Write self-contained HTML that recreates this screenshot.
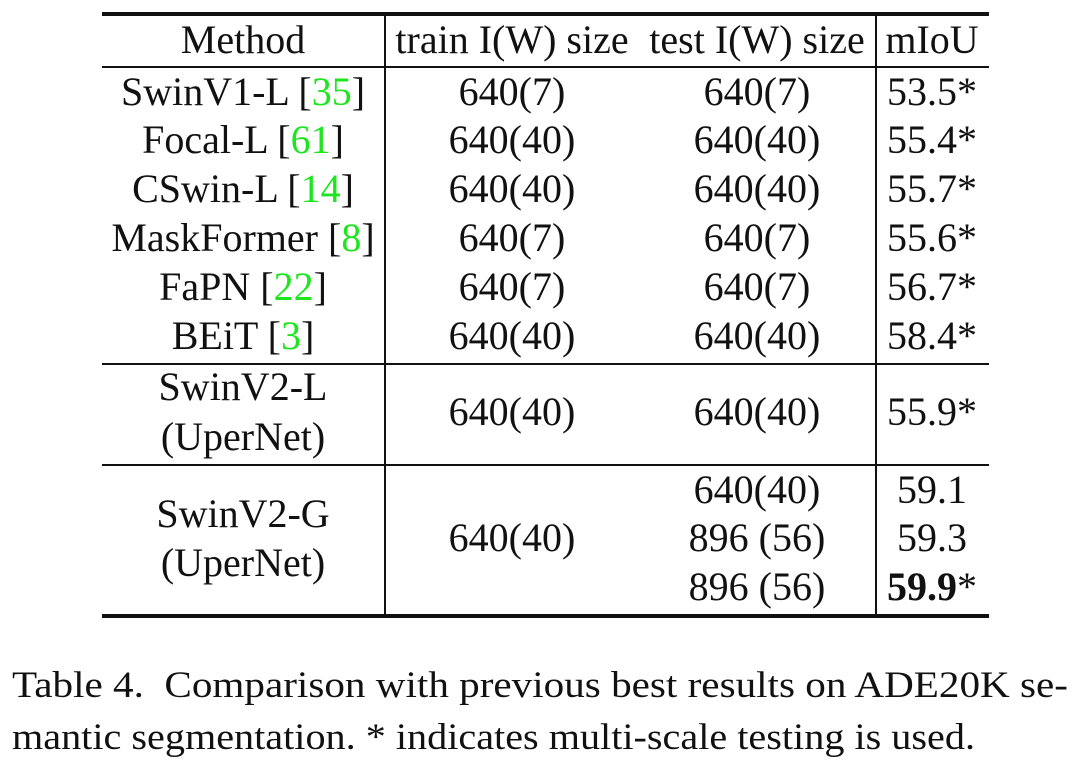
<!DOCTYPE html>
<html><head><style>
body{margin:0;width:1080px;height:764px;background:#fff;position:relative;overflow:hidden;font-family:"Liberation Serif","DejaVu Serif",serif;color:#111}
.t{position:absolute;font-size:40px;line-height:40px;white-space:nowrap;transform:translate(-50%,-50%)}
.h{position:absolute;background:#111}
.g{color:#1ee61e}
.cl{position:absolute;left:12px;font-size:37px;line-height:40px;white-space:nowrap;transform-origin:0 50%}
</style></head><body>
<div class="h" style="left:102px;top:12px;width:887px;height:4px"></div>
<div class="h" style="left:102px;top:66px;width:887px;height:2px"></div>
<div class="h" style="left:102px;top:363px;width:887px;height:2px"></div>
<div class="h" style="left:102px;top:464px;width:887px;height:2px"></div>
<div class="h" style="left:102px;top:614px;width:887px;height:4px"></div>
<div class="h" style="left:384px;top:14px;width:2px;height:602px"></div>
<div class="h" style="left:875px;top:14px;width:2px;height:602px"></div>

<div class="t" style="left:243px;top:40px">Method</div>
<div class="t" style="left:512px;top:40px">train I(W) size</div>
<div class="t" style="left:757px;top:40px">test I(W) size</div>
<div class="t" style="left:932px;top:40px">mIoU</div>

<div class="t" style="left:243px;top:92px">SwinV1-L [<span class="g">35</span>]</div>
<div class="t" style="left:243px;top:140px">Focal-L [<span class="g">61</span>]</div>
<div class="t" style="left:243px;top:189px">CSwin-L [<span class="g">14</span>]</div>
<div class="t" style="left:243px;top:238px">MaskFormer [<span class="g">8</span>]</div>
<div class="t" style="left:243px;top:287px">FaPN [<span class="g">22</span>]</div>
<div class="t" style="left:243px;top:336px">BEiT [<span class="g">3</span>]</div>

<div class="t" style="left:512px;top:92px">640(7)</div>
<div class="t" style="left:512px;top:140px">640(40)</div>
<div class="t" style="left:512px;top:189px">640(40)</div>
<div class="t" style="left:512px;top:238px">640(7)</div>
<div class="t" style="left:512px;top:287px">640(7)</div>
<div class="t" style="left:512px;top:336px">640(40)</div>

<div class="t" style="left:757px;top:92px">640(7)</div>
<div class="t" style="left:757px;top:140px">640(40)</div>
<div class="t" style="left:757px;top:189px">640(40)</div>
<div class="t" style="left:757px;top:238px">640(7)</div>
<div class="t" style="left:757px;top:287px">640(7)</div>
<div class="t" style="left:757px;top:336px">640(40)</div>

<div class="t" style="left:932px;top:92px">53.5*</div>
<div class="t" style="left:932px;top:140px">55.4*</div>
<div class="t" style="left:932px;top:189px">55.7*</div>
<div class="t" style="left:932px;top:238px">55.6*</div>
<div class="t" style="left:932px;top:287px">56.7*</div>
<div class="t" style="left:932px;top:336px">58.4*</div>

<div class="t" style="left:243px;top:387px">SwinV2-L</div>
<div class="t" style="left:243px;top:437px">(UperNet)</div>
<div class="t" style="left:512px;top:412px">640(40)</div>
<div class="t" style="left:757px;top:412px">640(40)</div>
<div class="t" style="left:932px;top:412px">55.9*</div>

<div class="t" style="left:243px;top:514px">SwinV2-G</div>
<div class="t" style="left:243px;top:563px">(UperNet)</div>
<div class="t" style="left:512px;top:538px">640(40)</div>
<div class="t" style="left:757px;top:490px">640(40)</div>
<div class="t" style="left:757px;top:538px">896 (56)</div>
<div class="t" style="left:757px;top:587px">896 (56)</div>
<div class="t" style="left:932px;top:490px">59.1</div>
<div class="t" style="left:932px;top:538px">59.3</div>
<div class="t" style="left:932px;top:587px"><b>59.9</b>*</div>

<div class="cl" id="c1" data-w="1056" style="top:666px">Table 4.&nbsp; Comparison with previous best results on ADE20K se-</div>
<div class="cl" id="c2" data-w="963" style="top:718px">mantic segmentation. * indicates multi-scale testing is used.</div>
<script>
["c1","c2"].forEach(function(id){var e=document.getElementById(id);var w=e.getBoundingClientRect().width;var t=+e.getAttribute("data-w");if(w>0)e.style.transform="scaleX("+(t/w)+")";});
</script>
</body></html>
